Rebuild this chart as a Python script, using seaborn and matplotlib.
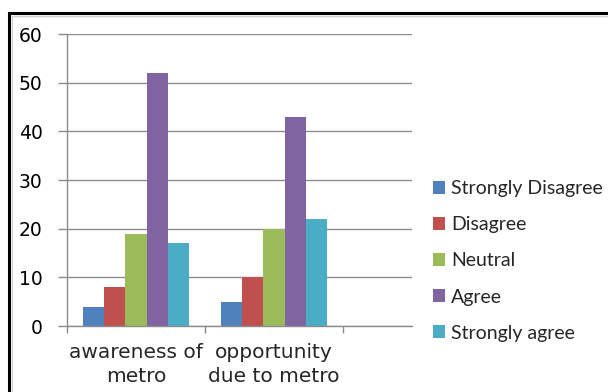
import matplotlib
matplotlib.use("Agg")
import matplotlib.pyplot as plt
from matplotlib.patches import Rectangle
import seaborn as sns
import pandas as pd

# Survey responses per statement
categories = ["awareness of\nmetro", "opportunity\ndue to metro"]
responses = ["Strongly Disagree", "Disagree", "Neutral", "Agree", "Strongly agree"]
awareness_counts = [4, 8, 19, 52, 17]
opportunity_counts = [5, 10, 20, 43, 22]
palette = ["#4F81BD", "#C0504D", "#9BBB59", "#8064A2", "#4BACC6"]
y_ticks = [0, 10, 20, 30, 40, 50, 60]

rows = []
for cat, counts in zip(categories, [awareness_counts, opportunity_counts]):
    for resp, val in zip(responses, counts):
        rows.append({"statement": cat, "response": resp, "count": val})
df = pd.DataFrame(rows)

sns.set_theme(style="white")
plt.rcParams["font.family"] = ["DejaVu Sans"]

W, H = 608, 392
fig = plt.figure(figsize=(W / 100, H / 100), dpi=100)
fig.patch.set_facecolor("white")

# outer chart frame (black) with a light inner edge
fig.add_artist(Rectangle((9 / W, -0.1), 1.2, (H - 13) / H + 0.1, transform=fig.transFigure,
                         fill=False, edgecolor="black", linewidth=2.2, zorder=10))
fig.add_artist(Rectangle((12 / W, -0.1), 1.2, (H - 16) / H + 0.1, transform=fig.transFigure,
                         fill=False, edgecolor="#d0d0d0", linewidth=1.0, zorder=10))

left, right, bottom, top = 67, 412, 326, 34
ax = fig.add_axes([left / W, (H - bottom) / H, (right - left) / W, (bottom - top) / H])

sns.barplot(data=df, x="statement", y="count", hue="response", order=categories,
            hue_order=responses, palette=palette, width=0.77, saturation=1,
            edgecolor="none", linewidth=0, ax=ax, legend=True)

ax.set_xlim(-0.5, 2.0)
ax.set_ylim(0, 60)
ax.set_xlabel("")
ax.set_ylabel("")

grid_c = "#8c8c8c"
ax.set_yticks(y_ticks)
ax.set_yticklabels([str(v) for v in y_ticks], fontsize=13.5, color="black")
ax.yaxis.grid(True, color=grid_c, linewidth=1.0)
ax.set_axisbelow(True)
ax.tick_params(axis="y", which="major", length=6.5, width=1.0, color=grid_c, pad=11, left=True)

ax.set_xticks([-0.5, 0.5, 1.5])
ax.set_xticklabels(["", "", ""])
ax.set_xticks([0, 1], minor=True)
ax.set_xticklabels(categories, minor=True, fontsize=14.5, linespacing=1.35)
ax.tick_params(axis="x", which="major", length=5, width=1.0, color=grid_c, bottom=True)
ax.tick_params(axis="x", which="minor", length=0, pad=12)

for side in ["top", "right"]:
    ax.spines[side].set_visible(False)
for side in ["left", "bottom"]:
    ax.spines[side].set_color(grid_c)
    ax.spines[side].set_linewidth(1.0)

handles, labels = ax.get_legend_handles_labels()
ax.get_legend().remove()
fig.legend(handles, labels, loc="center left", bbox_to_anchor=(415 / W, (H - 261) / H),
           frameon=False, prop={"family": "Lato", "size": 14},
           handlelength=0.65, handleheight=0.65, handletextpad=0.3, labelspacing=0.98)

fig.savefig("out.png", dpi=100, facecolor="white")
